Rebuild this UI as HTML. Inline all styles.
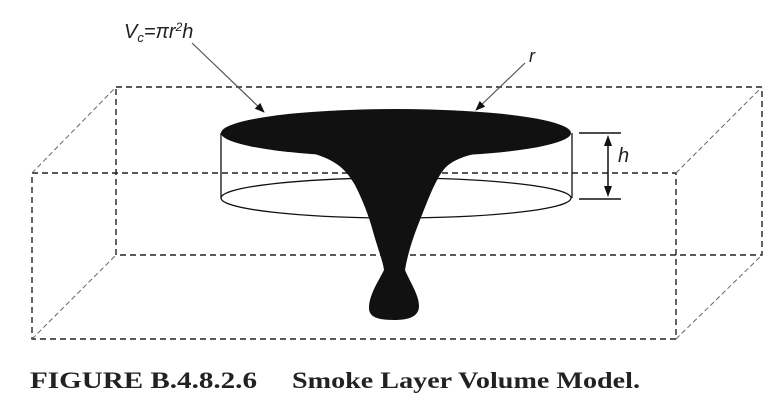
<!DOCTYPE html>
<html><head><style>body{margin:0;background:#fff}svg{display:block}</style></head>
<body>
<svg width="777" height="408" viewBox="0 0 777 408" xmlns="http://www.w3.org/2000/svg">
<defs><marker id="ah" markerWidth="10" markerHeight="8" refX="9" refY="4" orient="auto" markerUnits="userSpaceOnUse"><path d="M0,0 L10,4 L0,8 z" fill="#111"/></marker></defs>
<g fill="none" stroke="#222" stroke-width="1.4" stroke-dasharray="6,4">
<rect x="116" y="87" width="646" height="168"/>
<rect x="32" y="173" width="644" height="166"/>
</g>
<g stroke="#666" stroke-width="1" stroke-dasharray="5,3">
<line x1="32" y1="173" x2="116" y2="87"/>
<line x1="676" y1="173" x2="762" y2="87"/>
<line x1="32" y1="339" x2="116" y2="255"/>
<line x1="676" y1="339" x2="762" y2="255"/>
</g>
<g stroke="#111" stroke-width="1.3" fill="none">
<ellipse cx="396" cy="198" rx="175" ry="20" fill="#fff"/>
<line x1="221" y1="133" x2="221" y2="198"/>
<line x1="572" y1="133" x2="572" y2="198"/>
</g>
<path d="M300,150 C335,158 345,168 355,185 C365,205 370,220 374,235 C379,252 383,262 384,270 C378,282 369,295 369,308 C369,318 380,320 394,320 C410,320 419,316 419,306 C419,295 410,282 405,270 C408,252 414,235 420,220 C428,200 435,180 445,168 C455,158 470,154 495,150 Z" fill="#111"/>
<ellipse cx="396" cy="133" rx="175" ry="24" fill="#111"/>
<g stroke="#111" stroke-width="1.5">
<line x1="579" y1="133" x2="621" y2="133"/>
<line x1="579" y1="199" x2="621" y2="199"/>
<line x1="608" y1="145" x2="608" y2="188"/>
</g>
<path d="M608,135 L604,146 L612,146 z M608,197 L604,186 L612,186 z" fill="#111"/>
<g stroke="#555" stroke-width="1.2">
<line x1="192" y1="43" x2="264" y2="112" marker-end="url(#ah)"/>
<line x1="525" y1="63" x2="476" y2="110" marker-end="url(#ah)"/>
</g>
<g font-family="Liberation Sans, sans-serif" font-style="italic" fill="#222">
<text x="124" y="38" font-size="20">V<tspan font-size="13" dy="4">c</tspan><tspan dy="-4">=πr</tspan><tspan font-size="12" dy="-7">2</tspan><tspan dy="7">h</tspan></text>
<text x="529" y="62" font-size="18">r</text>
<text x="618" y="162" font-size="20">h</text>
</g>
<text x="30" y="388" font-family="Liberation Serif, serif" font-weight="bold" font-size="23" fill="#222" textLength="227" lengthAdjust="spacingAndGlyphs">FIGURE B.4.8.2.6</text>
<text x="292" y="388" font-family="Liberation Serif, serif" font-weight="bold" font-size="23" fill="#222" textLength="348" lengthAdjust="spacingAndGlyphs">Smoke Layer Volume Model.</text>
</svg>
</body></html>
